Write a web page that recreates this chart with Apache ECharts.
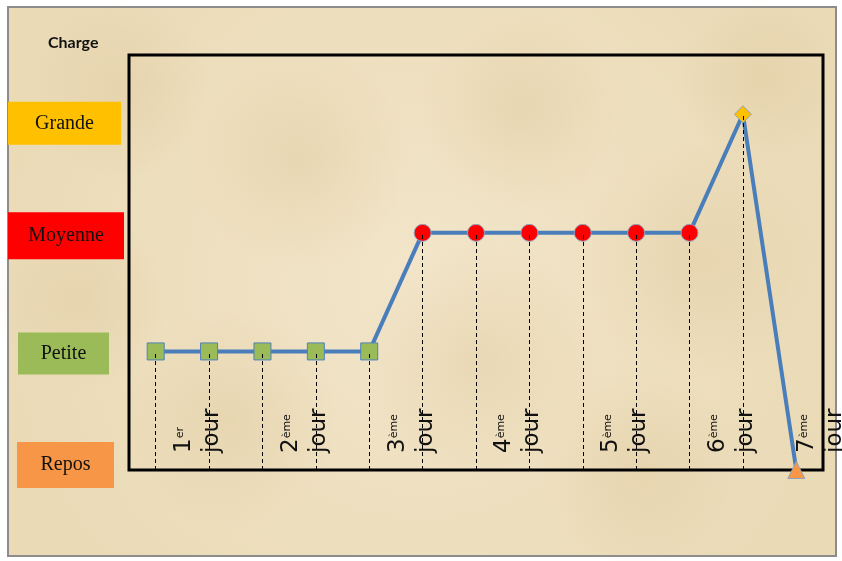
<!DOCTYPE html>
<html>
<head>
<meta charset="utf-8">
<title>Charge</title>
<script src="https://cdn.jsdelivr.net/npm/echarts@6/dist/echarts.min.js"></script>
<style>
  html, body { margin: 0; padding: 0; background: #fff; }
  #chart { width: 842px; height: 561px; }
</style>
</head>
<body>
<div id="chart"></div>
<script>
// niveaux de charge (axe vertical)
const levelNames = ['Repos', 'Petite', 'Moyenne', 'Grande']
// une valeur par point (13 points)
const pointIds = ['1', '2', '3', '4', '5', '6', '7', '8', '9', '10', '11', '12', '13']
const chargeLevels = [1, 1, 1, 1, 1, 2, 2, 2, 2, 2, 2, 3, 0]
// libelles des jours, poses sur certains points
const dayNumbers = ['1', '2', '3', '4', '5', '6', '7']
const daySup = ['er', 'ème', 'ème', 'ème', 'ème', 'ème', 'ème']
const dayPointIdx = [1, 3, 5, 7, 9, 11, 12]

// styles par niveau
const levelColors = ['#F79646', '#9BBB59', '#FF0000', '#FFC000']
const levelSymbols = ['triangle', 'rect', 'circle', 'diamond']
const boxWidth = [97, 91, 116, 113]
const boxHeight = [46, 42, 47, 43]
const boxSpacer = [10, 15, 0, 3]
const gapTop = [0, 4, 6, 18]
const gapBottom = [10, 0, 0, 0]

const chart = echarts.init(document.getElementById('chart'))

const yRich = {}
levelNames.forEach((name, i) => {
  yRich['b' + i] = {
    backgroundColor: levelColors[i],
    width: boxWidth[i],
    height: boxHeight[i],
    align: 'center',
    fontFamily: 'Liberation Serif',
    fontSize: 20,
    color: '#111'
  }
  yRich['s' + i] = { width: boxSpacer[i], align: 'right', fontSize: 1 }
  yRich['t' + i] = { height: gapTop[i], lineHeight: gapTop[i], fontSize: 1 }
  yRich['u' + i] = { height: gapBottom[i], lineHeight: gapBottom[i], fontSize: 1 }
})

const seriesData = chargeLevels.map((v, i) => ({
  value: v,
  symbol: levelSymbols[v],
  itemStyle: {
    color: levelColors[v],
    borderColor: v === 1 ? '#4F81BD' : '#8FA3BF',
    borderWidth: 1
  }
}))

const dropLines = []
chargeLevels.forEach((v, i) => {
  if (v > 0) {
    dropLines.push([{ coord: [i, 0] }, { coord: [i, v] }])
  }
})

// taches du fond facon parchemin
const blobs = [
  [120, 90, 90], [300, 160, 110], [520, 110, 100], [700, 260, 120],
  [230, 420, 110], [480, 360, 120], [640, 470, 100], [80, 300, 90], [760, 80, 80]
].map(b => ({
  type: 'circle',
  z: -9,
  silent: true,
  shape: { cx: b[0], cy: b[1], r: b[2] },
  style: {
    fill: {
      type: 'radial', x: 0.5, y: 0.5, r: 0.5,
      colorStops: [
        { offset: 0, color: 'rgba(214,190,140,0.28)' },
        { offset: 1, color: 'rgba(214,190,140,0)' }
      ]
    }
  }
}))

chart.setOption({
  backgroundColor: '#fff',
  animation: false,
  graphic: [{
    type: 'rect',
    z: -10,
    silent: true,
    shape: { x: 8, y: 7, width: 828, height: 549 },
    style: {
      fill: {
        type: 'radial', x: 0.5, y: 0.5, r: 0.8,
        colorStops: [
          { offset: 0, color: '#F2E5C9' },
          { offset: 1, color: '#EADAB6' }
        ]
      },
      stroke: '#8c8c8c',
      lineWidth: 2
    }
  }].concat(blobs),
  title: {
    text: 'Charge',
    left: 43,
    top: 30,
    textStyle: { fontFamily: 'Lato', fontSize: 16, fontWeight: 'bold', color: '#111' }
  },
  grid: {
    left: 129,
    right: 19,
    top: 55,
    bottom: 91,
    outerBoundsMode: 'none',
    containLabel: false,
    show: true,
    borderColor: '#000',
    borderWidth: 3,
    backgroundColor: 'transparent'
  },
  xAxis: {
    type: 'category',
    data: pointIds,
    boundaryGap: true,
    axisLine: { show: false },
    axisTick: { show: false },
    splitLine: { show: false },
    axisLabel: {
      inside: true,
      rotate: 90,
      interval: 0,
      margin: 17,
      color: '#111',
      formatter: (val, idx) => {
        const d = dayPointIdx.indexOf(idx)
        if (d < 0) return ''
        const last = d === dayNumbers.length - 1
        const top = last ? '{g50| }\n' : ''
        const bottom = last ? '' : '\n{g22| }'
        return top + '{n|' + dayNumbers[d] + '}{s|' + daySup[d] + '}\n{n|jour}' + bottom
      },
      rich: {
        n: { fontFamily: 'DejaVu Sans', fontSize: 23, lineHeight: 28, color: '#111' },
        s: { fontFamily: 'DejaVu Sans', fontSize: 11, lineHeight: 28, verticalAlign: 'top', padding: [5, 0, 0, 0], color: '#111' },
        g22: { fontSize: 1, height: 22, lineHeight: 22 },
        g50: { fontSize: 1, height: 50, lineHeight: 50 }
      }
    }
  },
  yAxis: {
    type: 'value',
    min: 0,
    max: 3.5,
    interval: 1,
    axisLine: { show: false },
    axisTick: { show: false },
    splitLine: { show: false },
    axisLabel: {
      margin: 5,
      formatter: (val) => {
        const i = levelNames[val] !== undefined ? val : -1
        if (i < 0) return ''
        let s = ''
        if (gapTop[i]) s += '{t' + i + '| }\n'
        s += '{b' + i + '|' + levelNames[i] + '}'
        if (boxSpacer[i]) s += '{s' + i + '| }'
        if (gapBottom[i]) s += '\n{u' + i + '| }'
        return s
      },
      rich: yRich
    }
  },
  series: [{
    type: 'line',
    data: seriesData,
    symbolSize: 17,
    clip: false,
    lineStyle: { color: '#4A7EBB', width: 4 },
    markLine: {
      silent: true,
      symbol: ['none', 'none'],
      label: { show: false },
      lineStyle: { type: [4, 3], color: '#000', width: 1 },
      data: dropLines
    }
  }]
})
</script>
</body>
</html>
